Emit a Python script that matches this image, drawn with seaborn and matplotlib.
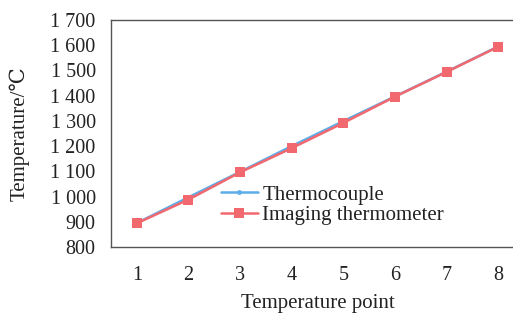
import numpy as np
import pandas as pd
import matplotlib
matplotlib.use("Agg")
import matplotlib.pyplot as plt
import seaborn as sns

# Data
points = [1, 2, 3, 4, 5, 6, 7, 8]
thermocouple = [895, 997, 1098, 1200, 1299, 1397, 1495, 1595]
imaging = [894, 988, 1096, 1192, 1292, 1396, 1494, 1594]
y_ticks = [800, 900, 1000, 1100, 1200, 1300, 1400, 1500, 1600, 1700]
y_tick_labels = ["800", "900", "1 000", "1 100", "1 200", "1 300", "1 400", "1 500", "1 600", "1 700"]

df = pd.DataFrame({
    "point": points * 2,
    "temp": thermocouple + imaging,
    "series": ["Thermocouple"] * 8 + ["Imaging thermometer"] * 8,
})

sns.set_style("white")
plt.rcParams["font.family"] = ["Liberation Serif", "DejaVu Serif"]

fig = plt.figure(figsize=(5.13, 3.16), dpi=100)
ax = fig.add_axes([111 / 513, 1 - 247 / 316, 413 / 513, 227 / 316])

sns.lineplot(data=df, x="point", y="temp", hue="series", style="series",
             palette={"Thermocouple": "#5dade8", "Imaging thermometer": "#f2686f"},
             markers={"Thermocouple": "o", "Imaging thermometer": "s"},
             dashes=False, markersize=7, linewidth=1.8, markeredgewidth=0, ax=ax)

# smaller dot for the thermocouple series, as in the reference
for line in ax.lines:
    if line.get_marker() == "o":
        line.set_markersize(3.5)

ax.set_xlim(0.5, 8.5)
ax.set_ylim(800, 1700)
ax.set_xticks(points)
ax.set_yticks(y_ticks)
ax.set_yticklabels(y_tick_labels)
ax.tick_params(axis="both", direction="in", length=4, width=0.8, colors="#333333",
               labelsize=14.5, labelcolor="#222222")
ax.tick_params(axis="x", pad=14)
ax.tick_params(axis="y", pad=11)

for side in ["left", "top", "bottom"]:
    ax.spines[side].set_color("#555555")
    ax.spines[side].set_linewidth(1.0)
ax.spines["right"].set_visible(False)

ax.set_xlabel("Temperature point", fontsize=15, labelpad=6, color="#222222")
ax.set_ylabel("Temperature/\u2103", fontsize=15, labelpad=15, color="#222222")

leg = ax.legend(loc="upper left", bbox_to_anchor=(0.245, 0.31), frameon=False,
                fontsize=15, handlelength=1.8, handletextpad=0.2, labelspacing=0.05,
                borderaxespad=0)
for txt in leg.get_texts():
    txt.set_color("#222222")
for h in leg.legend_handles:
    if h.get_marker() == "o":
        h.set_markersize(3.5)

fig.savefig("out.png", dpi=100)
